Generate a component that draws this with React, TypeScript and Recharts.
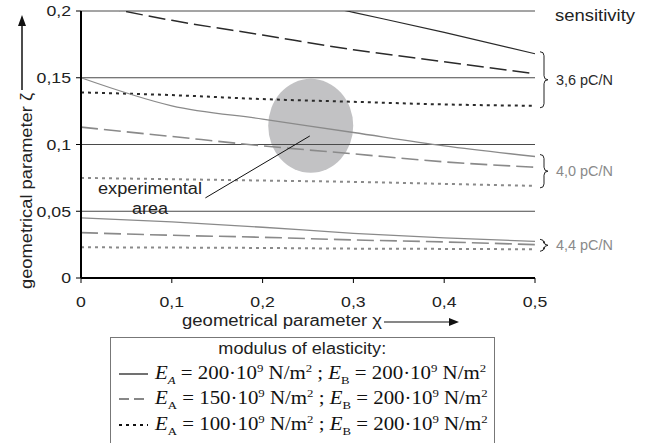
import React from "react";
import {
  LineChart,
  Line,
  XAxis,
  YAxis,
  CartesianGrid,
  ReferenceDot,
  ReferenceLine,
} from "recharts";

// geometrical parameter chi (x axis)
const chi = [0, 0.1, 0.2, 0.3, 0.4, 0.5];

// sensitivity 3,6 pC/N
const s36Solid = [0.255, 0.234, 0.214, 0.199, 0.184, 0.168];
const s36Dashed = [0.2065, 0.193, 0.182, 0.171, 0.162, 0.153];
const s36Dotted = [0.139, 0.137, 0.134, 0.132, 0.13, 0.129];

// sensitivity 4,0 pC/N
const s40Solid = [0.15, 0.129, 0.119, 0.109, 0.099, 0.091];
const s40Dashed = [0.113, 0.106, 0.099, 0.093, 0.087, 0.083];
const s40Dotted = [0.075, 0.074, 0.073, 0.072, 0.0705, 0.069];

// sensitivity 4,4 pC/N
const s44Solid = [0.045, 0.042, 0.038, 0.0335, 0.03, 0.0275];
const s44Dashed = [0.034, 0.032, 0.0305, 0.0285, 0.027, 0.025];
const s44Dotted = [0.023, 0.0228, 0.0225, 0.022, 0.0218, 0.0215];

const yTicks = [0, 0.05, 0.1, 0.15, 0.2];
const sensitivityLabels = ["3,6 pC/N", "4,0 pC/N", "4,4 pC/N"];
const modulusA = [200, 150, 100];
const modulusB = [200, 200, 200];

// experimental area (centre) and annotation
const expCentre = { chi: 0.253, zeta: 0.114 };
const expPointer = [
  { x: 0.137, y: 0.06 },
  { x: 0.252, y: 0.1064 },
];
const expText = { chi: 0.076, zeta: 0.06 };

const chartData = chi.map((c, i) => ({
  chi: c,
  s36Solid: s36Solid[i],
  s36Dashed: s36Dashed[i],
  s36Dotted: s36Dotted[i],
  s40Solid: s40Solid[i],
  s40Dashed: s40Dashed[i],
  s40Dotted: s40Dotted[i],
  s44Solid: s44Solid[i],
  s44Dashed: s44Dashed[i],
  s44Dotted: s44Dotted[i],
}));

const DARK = "#2a2a2a";
const GREY = "#8a8a8a";
const SOLID = undefined;
const DASH = "17 6";
const DOT = "3 4";

const lineStyles: { key: string; color: string; dash?: string; width: number }[] = [
  { key: "s36Solid", color: DARK, dash: SOLID, width: 1.2 },
  { key: "s36Dashed", color: DARK, dash: DASH, width: 1.5 },
  { key: "s36Dotted", color: DARK, dash: DOT, width: 2 },
  { key: "s40Solid", color: GREY, dash: SOLID, width: 1.3 },
  { key: "s40Dashed", color: GREY, dash: DASH, width: 1.6 },
  { key: "s40Dotted", color: GREY, dash: DOT, width: 2 },
  { key: "s44Solid", color: GREY, dash: SOLID, width: 1.3 },
  { key: "s44Dashed", color: GREY, dash: DASH, width: 1.6 },
  { key: "s44Dotted", color: GREY, dash: DOT, width: 2 },
];

const braces = [
  { top: s36Solid[5], bottom: s36Dotted[5], label: sensitivityLabels[0], color: DARK },
  { top: s40Solid[5], bottom: s40Dotted[5], label: sensitivityLabels[1], color: GREY },
  { top: s44Solid[5], bottom: s44Dotted[5], label: sensitivityLabels[2], color: GREY },
];

const SANS = "'Liberation Sans', Arial, sans-serif";
const SERIF = "'Liberation Serif', 'Times New Roman', serif";
const MARGIN = { top: 11, right: 113, left: 21, bottom: 135 };

const comma = (v: number) => String(v).replace(".", ",");

// the source picture is a little stretched sideways, so ticks are too
const XTick = (props: any) => {
  const { x, y, payload } = props;
  return (
    <text transform={`translate(${x},${y}) scale(1.18,1)`} textAnchor="middle" dy="0.71em" fontSize={15} fontFamily={SANS} fill="#222">
      {comma(payload.value)}
    </text>
  );
};

const YTick = (props: any) => {
  const { x, y, payload } = props;
  return (
    <text transform={`translate(${x},${y}) scale(1.18,1)`} textAnchor="end" dy="0.35em" fontSize={15} fontFamily={SANS} fill="#222">
      {comma(payload.value)}
    </text>
  );
};

const Brace = (props: any) => {
  const { x1, y1, y2, label, color } = props;
  const x0 = x1 + 5;
  const top = Math.min(y1, y2) - 2;
  const bot = Math.max(y1, y2) + 2;
  const mid = (top + bot) / 2;
  const d = `M${x0},${top} Q${x0 + 4},${top} ${x0 + 4},${top + 4} L${x0 + 4},${mid - 4} Q${x0 + 4},${mid} ${x0 + 8},${mid} Q${x0 + 4},${mid} ${x0 + 4},${mid + 4} L${x0 + 4},${bot - 4} Q${x0 + 4},${bot} ${x0},${bot}`;
  return (
    <g>
      <path d={d} fill="none" stroke="#222" strokeWidth={1} />
      <text x={x0 + 16} y={mid} dy="0.35em" fontSize={14} textLength={57} lengthAdjust="spacingAndGlyphs" fontFamily={SANS} fill={color}>
        {label}
      </text>
    </g>
  );
};

const ExperimentalArea = (props: any) => {
  const { cx, cy } = props;
  return <ellipse cx={cx} cy={cy} rx={42.5} ry={47} fill="#c2c2c4" />;
};

const ExperimentalText = (props: any) => {
  const { cx, cy } = props;
  return (
    <g fontFamily={SANS} fontSize={16} fill="#222" textAnchor="middle">
      <text x={cx} y={cy - 10} dy="0.35em" textLength={104} lengthAdjust="spacingAndGlyphs">
        experimental
      </text>
      <text x={cx} y={cy + 10} dy="0.35em" textLength={36} lengthAdjust="spacingAndGlyphs">
        area
      </text>
    </g>
  );
};

const sub = { fontSize: 11 };
const sup = { fontSize: 11 };

const LegendRow = ({ i, dash }: { i: number; dash?: string }) => (
  <div style={{ display: "flex", alignItems: "center", height: 25.5 }}>
    <svg width={37} height={10} style={{ marginLeft: 7, flex: "none" }}>
      <line x1={1} y1={5} x2={30} y2={5} stroke="#111" strokeWidth={dash === DOT ? 2 : 1.2} strokeDasharray={dash === DASH ? "10 5" : dash} />
    </svg>
    <span
      style={{
        fontFamily: SERIF,
        fontSize: 18,
        color: "#111",
        whiteSpace: "nowrap",
        display: "inline-block",
        transform: "scaleX(1.16)",
        transformOrigin: "left center",
      }}
    >
      <i>E</i>
      <sub style={{ ...sub, fontStyle: i === 0 ? "italic" : "normal" }}>A</sub> = {modulusA[i]}·10
      <sup style={sup}>9</sup> N/m<sup style={sup}>2</sup> ; <i>E</i>
      <sub style={sub}>B</sub> = {modulusB[i]}·10<sup style={sup}>9</sup> N/m<sup style={sup}>2</sup>
    </span>
  </div>
);

const axisProps = {
  xAxis: { dataKey: "chi", type: "number" as const, domain: [0, 0.5], ticks: chi, height: 30 },
  yAxis: { type: "number" as const, domain: [0, 0.2], ticks: yTicks, width: 60, allowDataOverflow: true },
};

export default function App() {
  return (
    <div style={{ position: "absolute", left: 0, top: 0, width: 648, height: 443, overflow: "hidden", background: "#fff" }}>
      {/* experimental area sits underneath the grid and the curves */}
      <div style={{ position: "absolute", left: 0, top: 0 }}>
        <LineChart width={648} height={443} data={chartData} margin={MARGIN}>
          <XAxis {...axisProps.xAxis} axisLine={false} tickLine={false} tick={false} />
          <YAxis {...axisProps.yAxis} axisLine={false} tickLine={false} tick={false} />
          <Line dataKey="s40Solid" stroke="none" dot={false} activeDot={false} isAnimationActive={false} />
          <ReferenceDot x={expCentre.chi} y={expCentre.zeta} shape={<ExperimentalArea />} ifOverflow="visible" />
        </LineChart>
      </div>

      <div style={{ position: "absolute", left: 0, top: 0 }}>
        <LineChart width={648} height={443} data={chartData} margin={MARGIN}>
          <CartesianGrid vertical={false} stroke="#4a4a4a" strokeWidth={1} />
          <XAxis
            {...axisProps.xAxis}
            axisLine={{ stroke: "#000", strokeWidth: 2 }}
            tickLine={{ stroke: "#000" }}
            tickSize={5}
            tickMargin={13}
            tick={<XTick />}
          />
          <YAxis
            {...axisProps.yAxis}
            axisLine={{ stroke: "#000", strokeWidth: 2 }}
            tickLine={{ stroke: "#000" }}
            tickSize={5}
            tickMargin={5}
            tick={<YTick />}
          />
          {lineStyles.map((s) => (
            <Line
              key={s.key}
              dataKey={s.key}
              type="monotone"
              stroke={s.color}
              strokeWidth={s.width}
              strokeDasharray={s.dash}
              dot={false}
              activeDot={false}
              isAnimationActive={false}
            />
          ))}
          <ReferenceLine segment={expPointer} stroke="#111" strokeWidth={1} ifOverflow="visible" />
          <ReferenceDot x={expText.chi} y={expText.zeta} shape={<ExperimentalText />} ifOverflow="visible" />
          {braces.map((b) => (
            <ReferenceLine
              key={b.label}
              segment={[
                { x: 0.5, y: b.top },
                { x: 0.5, y: b.bottom },
              ]}
              ifOverflow="visible"
              shape={(p: any) => <Brace {...p} label={b.label} color={b.color} />}
            />
          ))}
        </LineChart>
      </div>

      <svg width={648} height={443} style={{ position: "absolute", left: 0, top: 0, pointerEvents: "none" }}>
        <text x={555} y={15} dy="0.35em" fontSize={16} textLength={80} lengthAdjust="spacingAndGlyphs" fontFamily={SANS} fill="#222">
          sensitivity
        </text>
        <text x={182} y={320} dy="0.35em" fontSize={16} textLength={200} lengthAdjust="spacingAndGlyphs" fontFamily={SANS} fill="#222">
          geometrical parameter χ
        </text>
        <line x1={384} y1={322} x2={452} y2={322} stroke="#111" strokeWidth={1.2} />
        <path d="M459,322 L449,318 L449,326 Z" fill="#111" />
        <text
          x={0}
          y={0}
          transform="translate(26,191) rotate(-90)"
          textAnchor="middle"
          dy="0.35em"
          fontSize={17}
          textLength={196}
          lengthAdjust="spacingAndGlyphs"
          fontFamily={SANS}
          fill="#222"
        >
          geometrical parameter ζ
        </text>
        <line x1={22} y1={90} x2={22} y2={24} stroke="#111" strokeWidth={1.5} />
        <path d="M22,15 L18,26 L26,26 Z" fill="#111" />
      </svg>

      <div
        style={{
          position: "absolute",
          left: 110,
          top: 337,
          width: 385,
          height: 130,
          border: "1px solid #777",
          background: "#fff",
          boxSizing: "border-box",
        }}
      >
        <div style={{ textAlign: "center", marginTop: 2, height: 21 }}>
          <span
            style={{
              fontFamily: SANS,
              fontSize: 16,
              color: "#222",
              display: "inline-block",
              transform: "scaleX(1.13)",
            }}
          >
            modulus of elasticity:
          </span>
        </div>
        <LegendRow i={0} dash={SOLID} />
        <LegendRow i={1} dash={DASH} />
        <LegendRow i={2} dash={DOT} />
      </div>
    </div>
  );
}
